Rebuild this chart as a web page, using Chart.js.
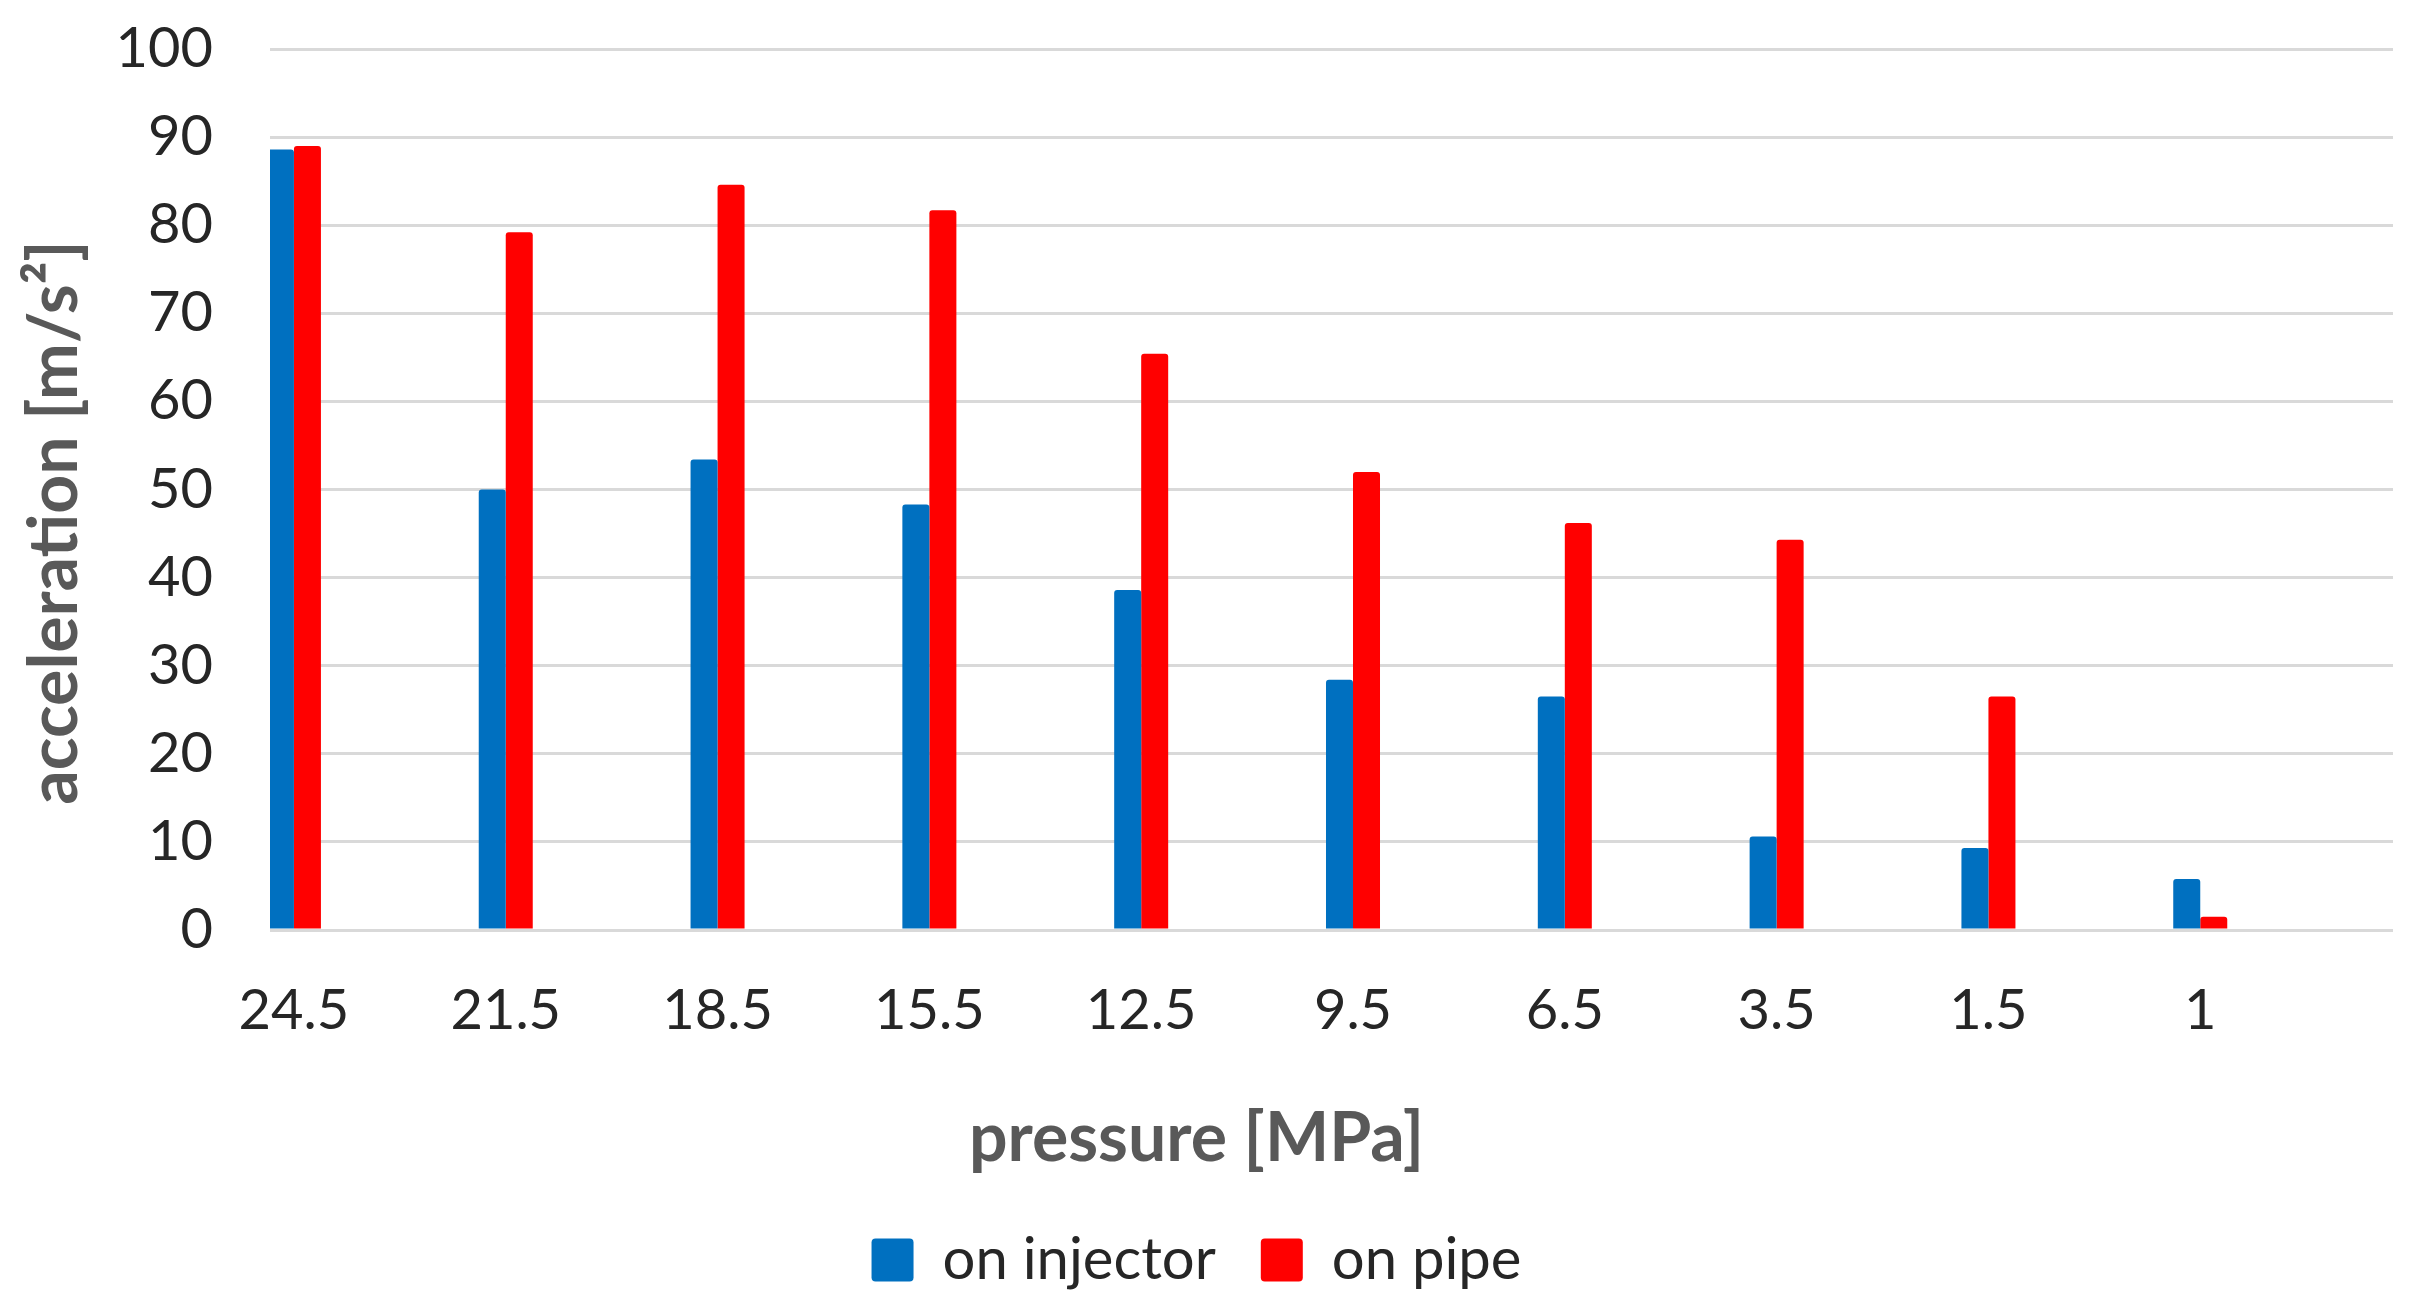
<!DOCTYPE html>
<html>
<head>
<meta charset="utf-8">
<script src="https://cdn.jsdelivr.net/npm/chart.js@4/dist/chart.umd.min.js"></script>
<style>
  html, body { margin: 0; padding: 0; background: #fff; }
  #wrap { width: 2430px; height: 1313px; }
</style>
</head>
<body>
<div id="wrap"><canvas id="chart" width="2430" height="1313"></canvas></div>
<script>
const pressures = ["24.5", "21.5", "18.5", "15.5", "12.5", "9.5", "6.5", "3.5", "1.5", "1"];
const onInjector = [88.6, 50.0, 53.4, 48.3, 38.6, 28.4, 26.5, 10.6, 9.3, 5.8];
const onPipe = [89.0, 79.2, 84.6, 81.7, 65.4, 52.0, 46.2, 44.3, 26.5, 1.5];
const yTicks = [0, 10, 20, 30, 40, 50, 60, 70, 80, 90, 100];

const FONT = "Lato";
const tickColor = "#262626";
const titleColor = "#595959";
const gridColor = "#d9d9d9";

function toPoints(values) {
  return values.map((v, i) => ({ x: i, y: v }));
}

const ctx = document.getElementById("chart").getContext("2d");

new Chart(ctx, {
  type: "bar",
  data: {
    datasets: [
      {
        label: "on injector",
        data: toPoints(onInjector),
        backgroundColor: "#0070c0",
        borderWidth: 0,
        borderRadius: 3
      },
      {
        label: "on pipe",
        data: toPoints(onPipe),
        backgroundColor: "#ff0000",
        borderWidth: 0,
        borderRadius: 3
      }
    ]
  },
  options: {
    responsive: false,
    animation: false,
    devicePixelRatio: 1,
    categoryPercentage: 0.255,
    barPercentage: 1.0,
    layout: { padding: { top: 49, right: 37, bottom: 14, left: 0 } },
    plugins: {
      tooltip: { enabled: false },
      legend: {
        position: "bottom",
        weight: 1000,
        labels: {
          font: { family: FONT, size: 58 },
          color: tickColor,
          boxWidth: 42,
          boxHeight: 43,
          padding: 45,
          useBorderRadius: true,
          borderRadius: 4
        }
      },
      title: {
        display: true,
        text: "pressure [MPa]",
        position: "bottom",
        weight: 500,
        color: titleColor,
        font: { family: FONT, size: 68, weight: "bold", lineHeight: 1 },
        padding: { top: 0, bottom: 13 }
      }
    },
    scales: {
      x: {
        type: "linear",
        offset: false,
        min: -0.113,
        max: 9.91,
        grid: { display: false, drawTicks: false },
        border: { display: false },
        afterBuildTicks: (scale) => {
          scale.ticks = pressures.map((_, i) => ({ value: i }));
        },
        afterFit: (scale) => { scale.height = 175; },
        ticks: {
          autoSkip: false,
          maxRotation: 0,
          padding: 47,
          color: tickColor,
          font: { family: FONT, size: 56 },
          callback: (value, index) => pressures[index]
        }
      },
      y: {
        min: 0,
        max: 100,
        afterBuildTicks: (scale) => {
          scale.ticks = yTicks.map((v) => ({ value: v }));
        },
        afterFit: (scale) => {
          scale.width = 270;
          scale.paddingTop = 0;
          scale.paddingBottom = 0;
        },
        grid: { color: gridColor, lineWidth: 3, drawTicks: false },
        border: { display: false },
        ticks: {
          padding: 57,
          color: tickColor,
          font: { family: FONT, size: 56 }
        },
        title: {
          display: true,
          text: "acceleration [m/s\u00b2]\u00a0\u00a0\u00a0\u00a0",
          color: titleColor,
          font: { family: FONT, size: 68, weight: "bold", lineHeight: 1 },
          padding: { top: 21, bottom: 0 }
        }
      }
    }
  }
});
</script>
</body>
</html>
